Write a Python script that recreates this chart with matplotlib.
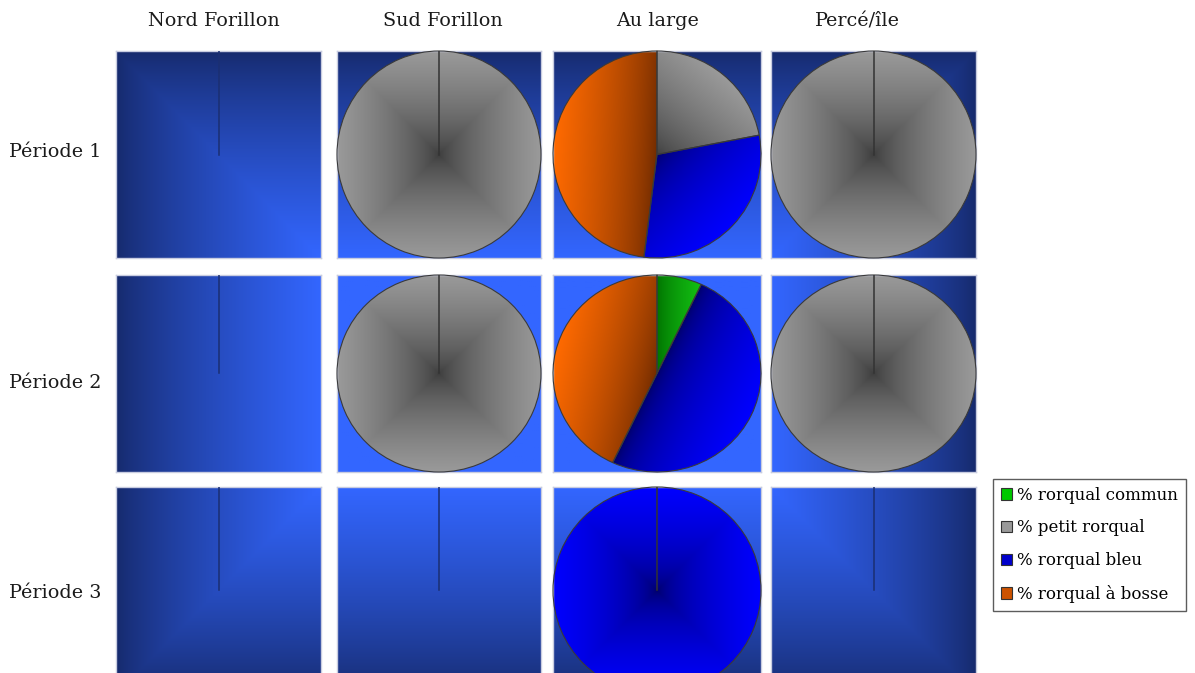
import numpy as np
import matplotlib
matplotlib.use("Agg")
import matplotlib.pyplot as plt
from matplotlib.colors import to_rgb
from matplotlib.patches import Patch

zones = ["Nord Forillon", "Sud Forillon", "Au large", "Percé/île"]
periodes = ["Période 1", "Période 2", "Période 3"]
especes = ["% rorqual commun", "% petit rorqual", "% rorqual bleu", "% rorqual à bosse"]

# % per zone (commun, petit, bleu, bosse), one list per period
periode1 = [[0, 0, 0, 0], [0, 100, 0, 0], [0, 22, 30, 48], [0, 100, 0, 0]]
periode2 = [[0, 0, 0, 0], [0, 100, 0, 0], [7, 0, 50, 43], [0, 100, 0, 0]]
periode3 = [[0, 0, 0, 0], [0, 0, 0, 0], [0, 0, 100, 0], [0, 0, 0, 0]]
donnees = [periode1, periode2, periode3]

# layout in pixels
W, H = 1195, 673
COL_X = [116, 337, 553, 771]
COL_W = [205, 204, 208, 205]
ROW_Y = [51, 275, 487]
ROW_H = [207, 197, 207]
TITLE_X = [214, 443, 658, 857]
LABEL_Y = [152, 383, 593]

FONT = "DejaVu Serif"
BG_DARK = np.array(to_rgb("#162a6c"))
BG_LIGHT = np.array(to_rgb("#3366ff"))

# (light, dark, gamma) shading of each species
SHADES = [("#22ff22", "#007000", 0.7), ("#9a9a9a", "#3c3c3c", 0.7),
          ("#0000ff", "#000060", 0.5), ("#ff6a00", "#6e2a00", 0.7)]
LEGEND_COLORS = ["#00c800", "#999999", "#0000cc", "#cc5200"]

# how light the panel background is; x: 0 left..1 right, y: 0 top..1 bottom
BG_SHAPE = [
    [lambda x, y: np.minimum(x, y), lambda x, y: y, lambda x, y: y,
     lambda x, y: np.minimum(1 - x, y)],
    [lambda x, y: x, lambda x, y: np.ones_like(x), lambda x, y: np.ones_like(x),
     lambda x, y: 1 - x],
    [lambda x, y: np.minimum(x, 1 - y), lambda x, y: 1 - y, lambda x, y: 1 - y,
     lambda x, y: np.minimum(1 - x, 1 - y)],
]

N = 200
gx, gy = np.meshgrid(np.linspace(0, 1, N), np.linspace(0, 1, N))
px, py = np.meshgrid(np.linspace(-1, 1, N), np.linspace(1, -1, N))


def blend(light, dark, t):
    light, dark = np.array(to_rgb(light)), np.array(to_rgb(dark))
    return dark + t[..., None] * (light - dark)


fig = plt.figure(figsize=(W / 100, H / 100), dpi=100)

for r in range(3):
    for c in range(4):
        ax = fig.add_axes([COL_X[c] / W, 1 - (ROW_Y[r] + ROW_H[r]) / H,
                           COL_W[c] / W, ROW_H[r] / H])
        t_bg = np.clip(BG_SHAPE[r][c](gx, gy), 0, 1) ** 0.8
        bg = BG_DARK + t_bg[..., None] * (BG_LIGHT - BG_DARK)
        ax.imshow(bg, extent=[-1, 1, -1, 1], aspect="auto", zorder=0,
                  interpolation="bilinear")

        vals = donnees[r][c]
        idx = [i for i, v in enumerate(vals) if v > 0]
        if idx:
            wedges, _ = ax.pie([vals[i] for i in idx], startangle=90,
                               counterclock=False, radius=1,
                               wedgeprops=dict(facecolor="none", edgecolor="#3a3a3a",
                                               linewidth=0.8, zorder=3))
            for w, i in zip(wedges, idx):
                if w.theta2 - w.theta1 > 359:
                    t = np.maximum(np.abs(px), np.abs(py))
                else:
                    mid = np.radians((w.theta1 + w.theta2) / 2)
                    ux, uy = np.cos(mid), np.sin(mid)
                    if w.theta2 - w.theta1 < 45:
                        ux, uy = np.sign(ux), 0.0   # narrow slice: shaded sideways
                    t = np.clip(px * ux + py * uy, 0, 1)
                light, dark, gam = SHADES[i]
                img = blend(light, dark, np.clip(t, 0, 1) ** gam)
                im = ax.imshow(img, extent=[-1, 1, -1, 1], aspect="auto", zorder=2,
                               interpolation="bilinear")
                im.set_clip_path(w)
        if len(idx) <= 1:
            line_col = "#333333" if idx else "#1b2f72"
            ax.plot([0, 0], [0, 1], color=line_col, lw=1.1, zorder=4)

        ax.set_aspect("auto")
        ax.set_xlim(-1, 1)
        ax.set_ylim(-1, 1)
        ax.set_frame_on(True)
        ax.set_xticks([])
        ax.set_yticks([])
        for s in ax.spines.values():
            s.set_color("#c8cce0")
            s.set_linewidth(1)

for c, z in enumerate(zones):
    fig.text(TITLE_X[c] / W, 1 - 21 / H, z, ha="center", va="center",
             family=FONT, fontsize=13.8, color="#1a1a1a")
for r, p in enumerate(periodes):
    fig.text(9 / W, 1 - LABEL_Y[r] / H, p, ha="left", va="center",
             family=FONT, fontsize=13.8, color="#1a1a1a")

handles = [Patch(facecolor=col, edgecolor="#333333", linewidth=0.8) for col in LEGEND_COLORS]
leg = fig.legend(handles, especes, loc="upper left",
                 bbox_to_anchor=(993 / W, 1 - 479 / H),
                 prop={"family": FONT, "size": 12}, frameon=True, fancybox=False,
                 edgecolor="#333333", handlelength=0.7, handleheight=0.7,
                 handletextpad=0.3, labelspacing=0.95, borderpad=0.45,
                 borderaxespad=0)
leg.get_frame().set_linewidth(1)

fig.savefig("out.png", dpi=100)
